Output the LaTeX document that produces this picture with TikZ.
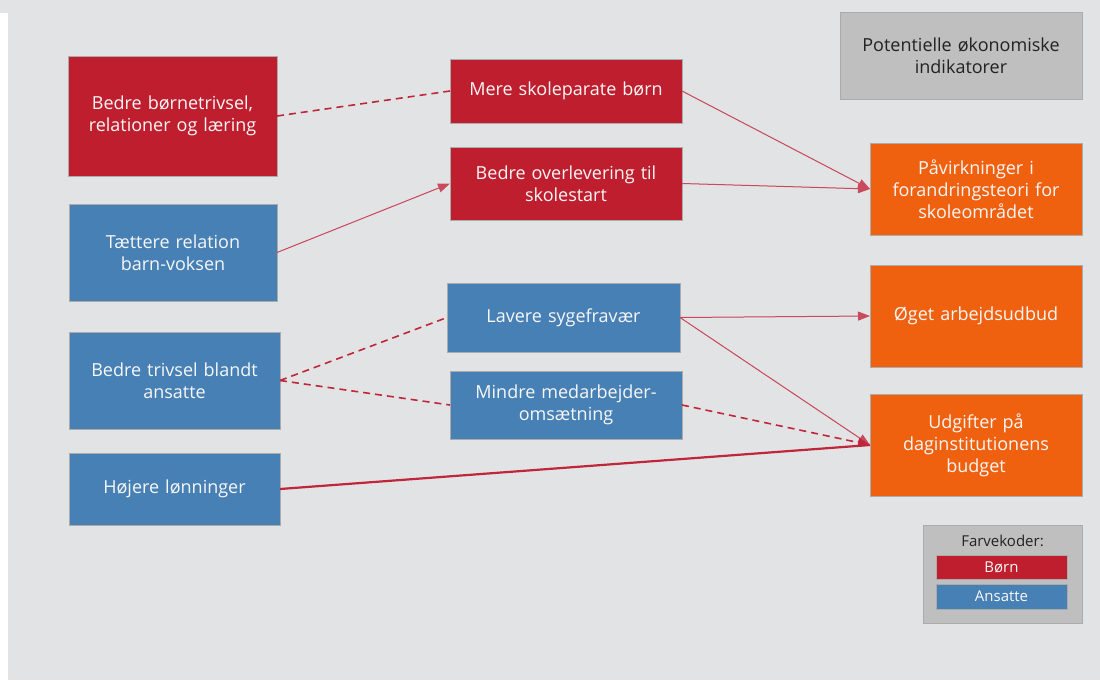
\documentclass[tikz,border=0pt]{standalone}
\usepackage{fontspec}
\setmainfont{Open Sans}
\usetikzlibrary{arrows.meta}
\definecolor{bg}{HTML}{E2E3E5}
\definecolor{boern}{HTML}{BE1E2D}
\definecolor{ansat}{HTML}{4780B4}
\definecolor{oekon}{HTML}{F0610F}
\definecolor{neutral}{HTML}{BFBFBF}
\definecolor{edge}{HTML}{ABABAB}
\definecolor{link}{HTML}{C0263A}
\definecolor{linklight}{HTML}{C94A5C}
\definecolor{ink}{HTML}{222222}
\definecolor{paper}{HTML}{F7F7F7}
\tikzset{
  box/.style={rectangle, draw=edge, line width=0.5pt, inner sep=0pt, outer sep=0pt,
    align=center, font=\fontsize{18}{22}\selectfont, text=paper},
  kidbox/.style={box, fill=boern},
  staffbox/.style={box, fill=ansat},
  econbox/.style={box, fill=oekon},
  greybox/.style={box, fill=neutral, text=ink},
  keybar/.style={rectangle, draw=edge, line width=0.5pt, minimum width=131pt,
    inner sep=0pt, text=paper, font=\fontsize{15}{17}\selectfont},
  tip/.style={-{Triangle[length=12pt,width=9pt]}},
  thinlink/.style={draw=linklight, line width=1pt},
  dashlink/.style={draw=link, line width=1.6pt, dash pattern=on 7pt off 5pt},
  boldlink/.style={draw=link, line width=2.2pt},
}
\begin{document}
\begin{tikzpicture}[x=1pt,y=-1pt]
  % canvas
  \fill[bg] (0,0) rectangle (1100,680);
  \fill[white] (0,12.7) rectangle (7.5,680);
  \useasboundingbox (0,0) rectangle (1100,680);

  % left column
  \node[kidbox, minimum width=209pt, minimum height=120pt, text width=204pt] (b1) at (172.5,116) {Bedre børnetrivsel,\\relationer og læring};
  \node[staffbox, minimum width=208pt, minimum height=97pt, text width=204pt] (b2) at (173,252.5) {Tættere relation\\barn-voksen};
  \node[staffbox, minimum width=211pt, minimum height=97pt, text width=204pt] (b3) at (174.5,380.5) {Bedre trivsel blandt\\ansatte};
  \node[staffbox, minimum width=211pt, minimum height=72pt, text width=204pt] (b4) at (174.5,489) {Højere lønninger};

  % middle column
  \node[kidbox, minimum width=232pt, minimum height=64pt, text width=226pt] (m1) at (566,91) {Mere skoleparate børn};
  \node[kidbox, minimum width=232pt, minimum height=73pt, text width=226pt] (m2) at (566,183.5) {Bedre overlevering til\\skolestart};
  \node[staffbox, minimum width=233pt, minimum height=69pt, text width=226pt] (m3) at (563.5,317.5) {Lavere sygefravær};
  \node[staffbox, minimum width=232pt, minimum height=68pt, text width=226pt] (m4) at (566,405) {Mindre medarbejder-\\omsætning};

  % right column
  \node[greybox, minimum width=242pt, minimum height=87pt, text width=236pt] (r0) at (961,55.5) {Potentielle økonomiske\\indikatorer};
  \node[econbox, minimum width=212pt, minimum height=92pt, text width=206pt] (r1) at (976,189) {Påvirkninger i\\forandringsteori for\\skoleområdet};
  \node[econbox, minimum width=212pt, minimum height=102pt, text width=206pt] (r2) at (976,316) {Øget arbejdsudbud};
  \node[econbox, minimum width=212pt, minimum height=102pt, text width=206pt] (r3) at (976,445) {Udgifter på\\daginstitutionens\\budget};

  % colour key
  \node[rectangle, draw=edge, fill=neutral, line width=0.8pt, minimum width=159pt, minimum height=98pt, inner sep=0pt] (key) at (1002.5,574) {};
  \node[text=ink, font=\fontsize{15}{17}\selectfont, inner sep=0pt] (keytitle) at (1002.5,541) {Farvekoder:};
  \node[keybar, fill=boern, minimum height=24pt] (keykid) at (1001.5,567) {Børn};
  \node[keybar, fill=ansat, minimum height=25pt] (keystaff) at (1001.5,596.5) {Ansatte};

  % connectors
  \draw[dashlink] (b1.east) -- (m1.west);
  \draw[thinlink, tip, fill=link] (b2.east) -- (m2.west);
  \draw[dashlink] (b3.east) -- (m3.west);
  \draw[dashlink] (b3.east) -- (m4.west);
  \draw[boldlink] (b4.east) -- (r3.west);
  \draw[thinlink, tip, fill=link] (m1.east) -- (r1.west);
  \draw[thinlink, tip, fill=link] (m2.east) -- (r1.west);
  \draw[thinlink, tip, fill=link] (m3.east) -- (r2.west);
  \draw[thinlink, tip, fill=link] (m3.east) -- (r3.west);
  \draw[dashlink, tip] (m4.east) -- (r3.west);
\end{tikzpicture}
\end{document}
